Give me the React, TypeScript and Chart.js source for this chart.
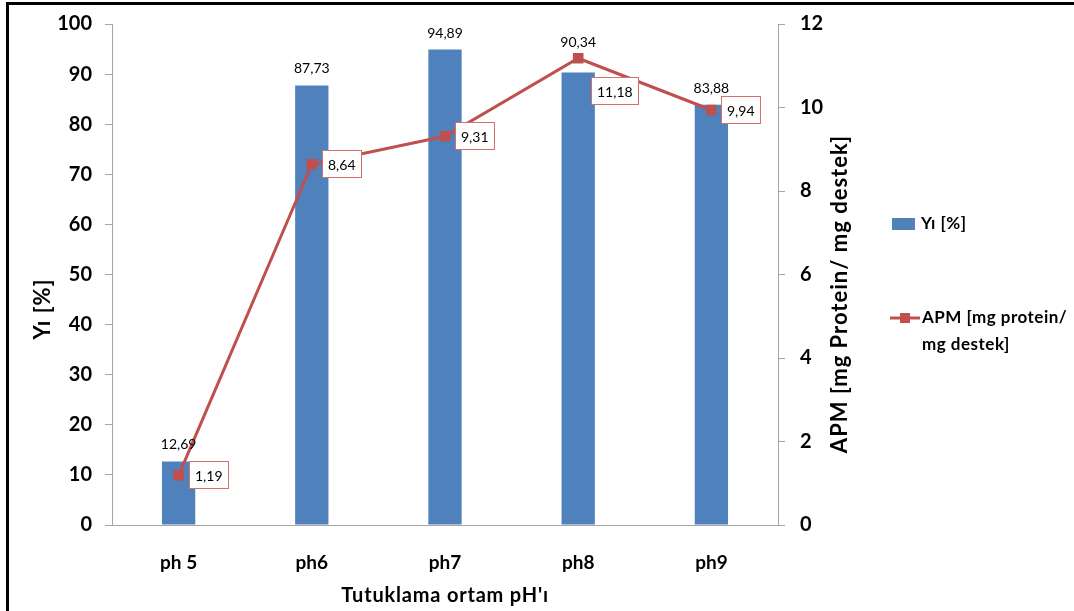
import React, { useEffect, useRef } from "react";
import { Chart, registerables } from "chart.js";

Chart.register(...registerables);

const categories = ["ph 5", "ph6", "ph7", "ph8", "ph9"];
const yieldValues = [12.69, 87.73, 94.89, 90.34, 83.88];
const apmValues = [1.19, 8.64, 9.31, 11.18, 9.94];
const leftTickValues = [0, 10, 20, 30, 40, 50, 60, 70, 80, 90, 100];
const rightTickValues = [0, 2, 4, 6, 8, 10, 12];

const yieldLabel = "Yı [%]";
const apmLegendLines = ["APM [mg protein/", "mg destek]"];
const apmAxisTitle = "APM [mg Protein/ mg destek]";
const xAxisTitle = "Tutuklama ortam pH'ı";

// label placement offsets (layout, not data)
const barLabelDy = [0, 0, 0, -13, 0];
const lineLabelDx = [0, 0, 0, 3, 0];
const lineLabelDy = [0, 0, 0, 33, 0];

const FONT = "Lato, 'Open Sans', sans-serif";
const BLUE = "#4f81bd";
const RED = "#c0504d";
const AXIS = "#a6a6a6";

const fmt = (v: number) => v.toFixed(2).replace(".", ",");

const decorPlugin = {
  id: "decor",
  beforeDraw(chart: any) {
    const { ctx, width, height } = chart;
    ctx.save();
    ctx.fillStyle = "#ffffff";
    ctx.fillRect(0, 0, width, height);
    ctx.fillStyle = "#000000";
    ctx.fillRect(6, 2, 3, height);
    ctx.fillRect(6, 2, width, 3);
    ctx.restore();
  },
  afterDatasetsDraw(chart: any) {
    const ctx = chart.ctx;
    ctx.save();
    ctx.font = `14px ${FONT}`;
    ctx.fillStyle = "#000";
    ctx.textAlign = "center";
    ctx.textBaseline = "alphabetic";
    const barMeta = chart.getDatasetMeta(1);
    barMeta.data.forEach((el: any, i: number) => {
      ctx.fillText(fmt(yieldValues[i]), el.x, el.y - 12 + barLabelDy[i]);
    });
    const lineMeta = chart.getDatasetMeta(0);
    lineMeta.data.forEach((pt: any, i: number) => {
      const txt = fmt(apmValues[i]);
      const w = Math.round(ctx.measureText(txt).width + 12);
      const h = 28;
      const bx = Math.round(pt.x + 10 + lineLabelDx[i]);
      const by = Math.round(pt.y - h / 2 + lineLabelDy[i]);
      ctx.fillStyle = "#fff";
      ctx.fillRect(bx, by, w, h);
      ctx.strokeStyle = "#d4706d";
      ctx.lineWidth = 1;
      ctx.strokeRect(bx + 0.5, by + 0.5, w - 1, h - 1);
      ctx.fillStyle = "#000";
      ctx.textAlign = "left";
      ctx.textBaseline = "middle";
      ctx.fillText(txt, bx + 6, by + h / 2 + 1);
    });
    ctx.restore();
  },
  afterDraw(chart: any) {
    const ctx = chart.ctx;
    ctx.save();
    ctx.fillStyle = "#000";
    ctx.textAlign = "center";
    ctx.textBaseline = "middle";
    // left axis title
    ctx.font = `bold 22px ${FONT}`;
    (ctx as any).letterSpacing = "1px";
    ctx.save();
    ctx.translate(43, 309);
    ctx.rotate(-Math.PI / 2);
    ctx.fillText(yieldLabel, 0, 0);
    ctx.restore();
    // right axis title
    ctx.save();
    ctx.translate(840, 294);
    ctx.rotate(-Math.PI / 2);
    ctx.fillText(apmAxisTitle, 0, 0);
    ctx.restore();
    // x axis title
    ctx.font = `bold 20px ${FONT}`;
    (ctx as any).letterSpacing = "0.8px";
    ctx.fillText(xAxisTitle, 445, 596);
    // legend
    ctx.fillStyle = BLUE;
    ctx.fillRect(892, 218, 23, 12);
    ctx.fillStyle = "#000";
    ctx.font = `bold 17px ${FONT}`;
    (ctx as any).letterSpacing = "0.5px";
    ctx.textAlign = "left";
    ctx.fillText(yieldLabel, 921, 224);
    ctx.strokeStyle = RED;
    ctx.lineWidth = 3;
    ctx.beginPath();
    ctx.moveTo(890, 318);
    ctx.lineTo(920, 318);
    ctx.stroke();
    ctx.fillStyle = RED;
    ctx.fillRect(900, 313, 10, 10);
    ctx.fillStyle = "#000";
    ctx.fillText(apmLegendLines[0], 922, 318);
    ctx.fillText(apmLegendLines[1], 922, 345);
    ctx.restore();
  },
};

export default function App() {
  const ref = useRef<HTMLCanvasElement | null>(null);

  useEffect(() => {
    document.body.style.margin = "0";
    if (!ref.current) return;
    const chart = new Chart(ref.current, {
      type: "bar",
      data: {
        labels: categories,
        datasets: [
          {
            type: "line",
            label: "APM [mg protein/ mg destek]",
            data: apmValues,
            yAxisID: "y1",
            borderColor: RED,
            backgroundColor: RED,
            borderWidth: 3,
            pointStyle: "rect",
            pointRadius: 7.5,
            pointBorderWidth: 0,
            tension: 0,
            order: 0,
          } as any,
          {
            type: "bar",
            label: yieldLabel,
            data: yieldValues,
            yAxisID: "y",
            backgroundColor: BLUE,
            borderWidth: 0,
            categoryPercentage: 1,
            barPercentage: 0.25,
            order: 1,
          },
        ],
      },
      options: {
        responsive: false,
        animation: false,
        layout: { padding: { top: 24, left: 0, right: 0, bottom: 0 } },
        plugins: {
          legend: { display: false },
          tooltip: { enabled: false },
          title: { display: false },
        },
        scales: {
          x: {
            offset: true,
            grid: { display: false, drawTicks: false },
            border: { display: true, color: AXIS, width: 1 },
            ticks: {
              color: "#000",
              font: { family: FONT, size: 19, weight: "bold" },
              padding: 26,
            },
            afterFit: (s: any) => {
              s.height = 86;
              s.paddingLeft = 0;
              s.paddingRight = 0;
            },
          },
          y: {
            position: "left",
            min: 0,
            max: 100,
            afterBuildTicks: (s: any) => {
              s.ticks = leftTickValues.map((v) => ({ value: v }));
            },
            grid: {
              drawOnChartArea: false,
              drawTicks: true,
              tickLength: 7,
              color: AXIS,
            },
            border: { display: true, color: AXIS, width: 1 },
            ticks: {
              color: "#000",
              font: { family: FONT, size: 20, weight: "bold" },
              padding: 13,
            },
            afterFit: (s: any) => {
              s.width = 112;
              s.paddingTop = 0;
              s.paddingBottom = 0;
            },
          },
          y1: {
            position: "right",
            min: 0,
            max: 12,
            afterBuildTicks: (s: any) => {
              s.ticks = rightTickValues.map((v) => ({ value: v }));
            },
            grid: {
              drawOnChartArea: false,
              drawTicks: true,
              tickLength: 7,
              color: AXIS,
            },
            border: { display: true, color: AXIS, width: 1 },
            ticks: {
              color: "#000",
              font: { family: FONT, size: 20, weight: "bold" },
              padding: 15,
            },
            afterFit: (s: any) => {
              s.width = 296;
              s.paddingTop = 0;
              s.paddingBottom = 0;
            },
          },
        },
      },
      plugins: [decorPlugin],
    });
    return () => chart.destroy();
  }, []);

  return (
    <div style={{ position: "absolute", left: 0, top: 0, width: 1074, height: 611 }}>
      <canvas ref={ref} width={1074} height={611} style={{ display: "block" }} />
    </div>
  );
}
